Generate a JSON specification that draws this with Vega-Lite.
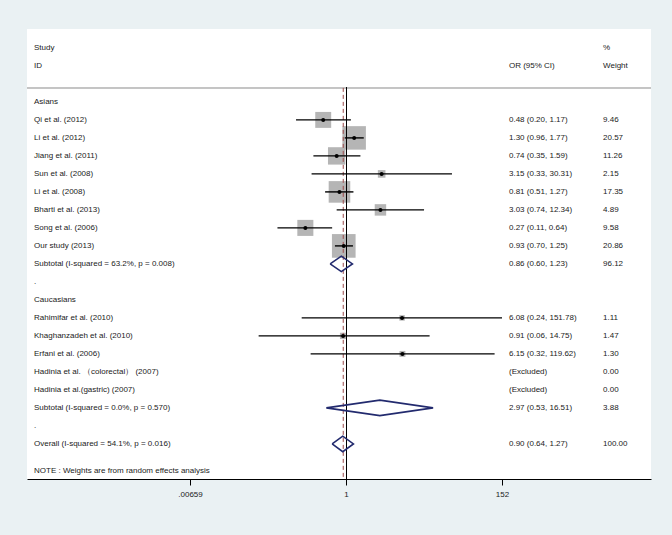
{
  "$schema": "https://vega.github.io/schema/vega-lite/v6.json",
  "width": 624,
  "height": 450,
  "autosize": {"type": "none"},
  "padding": {"left": 27, "top": 29, "right": 21, "bottom": 56},
  "background": "#eaf1f3",
  "config": {
    "view": {"fill": "white", "stroke": null},
    "font": "Liberation Sans",
    "text": {"font": "Liberation Sans", "fontSize": 8, "color": "#1a1a1a"},
    "axisX": {"grid": false, "domainColor": "black", "domainWidth": 1, "tickColor": "black", "tickSize": 6, "tickWidth": 1, "labelFont": "Liberation Sans", "labelFontSize": 8, "labelColor": "#1a1a1a", "labelPadding": 5, "title": null}
  },
  "datasets": {
    "rows": [
      {"row": -3, "label": "Study", "ci": "", "wt": "%", "kind": "header"},
      {"row": -2, "label": "ID", "ci": "OR (95% CI)", "wt": "Weight", "kind": "header"},
      {"row": 0, "label": "Asians", "kind": "group"},
      {"row": 1, "label": "Qi et al. (2012)", "est": 0.48, "lo": 0.20, "hi": 1.17, "w": 9.46, "ci": "0.48 (0.20, 1.17)", "wt": "9.46", "kind": "study"},
      {"row": 2, "label": "Li et al. (2012)", "est": 1.30, "lo": 0.96, "hi": 1.77, "w": 20.57, "ci": "1.30 (0.96, 1.77)", "wt": "20.57", "kind": "study"},
      {"row": 3, "label": "Jiang et al. (2011)", "est": 0.74, "lo": 0.35, "hi": 1.59, "w": 11.26, "ci": "0.74 (0.35, 1.59)", "wt": "11.26", "kind": "study"},
      {"row": 4, "label": "Sun et al. (2008)", "est": 3.15, "lo": 0.33, "hi": 30.31, "w": 2.15, "ci": "3.15 (0.33, 30.31)", "wt": "2.15", "kind": "study"},
      {"row": 5, "label": "Li et al. (2008)", "est": 0.81, "lo": 0.51, "hi": 1.27, "w": 17.35, "ci": "0.81 (0.51, 1.27)", "wt": "17.35", "kind": "study"},
      {"row": 6, "label": "Bharti et al. (2013)", "est": 3.03, "lo": 0.74, "hi": 12.34, "w": 4.89, "ci": "3.03 (0.74, 12.34)", "wt": "4.89", "kind": "study"},
      {"row": 7, "label": "Song et al. (2006)", "est": 0.27, "lo": 0.11, "hi": 0.64, "w": 9.58, "ci": "0.27 (0.11, 0.64)", "wt": "9.58", "kind": "study"},
      {"row": 8, "label": "Our study (2013)", "est": 0.93, "lo": 0.70, "hi": 1.25, "w": 20.86, "ci": "0.93 (0.70, 1.25)", "wt": "20.86", "kind": "study"},
      {"row": 9, "label": "Subtotal  (I-squared = 63.2%, p = 0.008)", "est": 0.86, "lo": 0.60, "hi": 1.23, "ci": "0.86 (0.60, 1.23)", "wt": "96.12", "kind": "pooled"},
      {"row": 10, "label": ".", "kind": "blank"},
      {"row": 11, "label": "Caucasians", "kind": "group"},
      {"row": 12, "label": "Rahimifar et al. (2010)", "est": 6.08, "lo": 0.24, "hi": 151.78, "w": 1.11, "ci": "6.08 (0.24, 151.78)", "wt": "1.11", "kind": "study"},
      {"row": 13, "label": "Khaghanzadeh et al. (2010)", "est": 0.91, "lo": 0.06, "hi": 14.75, "w": 1.47, "ci": "0.91 (0.06, 14.75)", "wt": "1.47", "kind": "study"},
      {"row": 14, "label": "Erfani et al. (2006)", "est": 6.15, "lo": 0.32, "hi": 119.62, "w": 1.30, "ci": "6.15 (0.32, 119.62)", "wt": "1.30", "kind": "study"},
      {"row": 15, "label": "Hadinia et al. （colorectal） (2007)", "ci": "(Excluded)", "wt": "0.00", "kind": "excluded"},
      {"row": 16, "label": "Hadinia et al.(gastric) (2007)", "ci": "(Excluded)", "wt": "0.00", "kind": "excluded"},
      {"row": 17, "label": "Subtotal  (I-squared = 0.0%, p = 0.570)", "est": 2.97, "lo": 0.53, "hi": 16.51, "ci": "2.97 (0.53, 16.51)", "wt": "3.88", "kind": "pooled"},
      {"row": 18, "label": ".", "kind": "blank"},
      {"row": 19, "label": "Overall  (I-squared = 54.1%, p = 0.016)", "est": 0.90, "lo": 0.64, "hi": 1.27, "ci": "0.90 (0.64, 1.27)", "wt": "100.00", "kind": "overall"},
      {"row": 20.5, "label": "NOTE : Weights are from random effects analysis", "kind": "note"}
    ]
  },
  "data": {"name": "rows"},
  "layer": [
    {
      "mark": {"type": "rule", "color": "#c4c4c4", "strokeWidth": 1},
      "encoding": {
        "y": {"datum": -0.78, "scale": {"domain": [-4.05, 20.95], "nice": false, "zero": false, "reverse": true}, "axis": null}
      }
    },
    {
      "transform": [{"filter": "datum.kind == 'study'"}],
      "mark": {"type": "point", "shape": "square", "filled": true, "color": "#b5b5b5", "opacity": 1},
      "encoding": {
        "x": {"field": "est", "type": "quantitative", "scale": {"type": "log", "domain": [3.46e-5, 18400], "nice": false}, "axis": {"values": [0.00659, 1, 152], "labelExpr": "datum.value < 0.01 ? '.00659' : (datum.value == 1 ? '1' : '152')", "title": null}},
        "y": {"field": "row", "type": "quantitative", "axis": null},
        "size": {"field": "w", "type": "quantitative", "scale": {"type": "linear", "domain": [0, 20.86], "range": [0, 560], "zero": true}, "legend": null}
      }
    },
    {
      "mark": {"type": "rule", "color": "black", "strokeWidth": 1, "xOffset": 0.5},
      "encoding": {
        "x": {"datum": 1, "axis": {"values": [0.00659, 1, 152], "labelExpr": "datum.value < 0.01 ? '.00659' : (datum.value == 1 ? '1' : '152')", "title": null}},
        "y": {"datum": -0.78, "axis": null},
        "y2": {"datum": 20.95}
      }
    },
    {
      "transform": [{"filter": "datum.kind == 'overall'"}],
      "mark": {"type": "rule", "color": "#9b4a4a", "strokeWidth": 1, "strokeDash": [4, 3], "xOffset": 0.5},
      "encoding": {
        "x": {"field": "est", "type": "quantitative", "axis": {"values": [0.00659, 1, 152], "labelExpr": "datum.value < 0.01 ? '.00659' : (datum.value == 1 ? '1' : '152')", "title": null}},
        "y": {"datum": -0.78, "axis": null},
        "y2": {"datum": 20.95}
      }
    },
    {
      "transform": [{"filter": "datum.kind == 'study'"}],
      "mark": {"type": "rule", "color": "black", "strokeWidth": 1.4},
      "encoding": {
        "x": {"field": "lo", "type": "quantitative", "axis": {"values": [0.00659, 1, 152], "labelExpr": "datum.value < 0.01 ? '.00659' : (datum.value == 1 ? '1' : '152')", "title": null}},
        "x2": {"field": "hi"},
        "y": {"field": "row", "type": "quantitative", "axis": null}
      }
    },
    {
      "transform": [{"filter": "datum.kind == 'study'"}],
      "mark": {"type": "point", "shape": "circle", "filled": true, "color": "black", "opacity": 1, "size": 16},
      "encoding": {
        "x": {"field": "est", "type": "quantitative", "axis": {"values": [0.00659, 1, 152], "labelExpr": "datum.value < 0.01 ? '.00659' : (datum.value == 1 ? '1' : '152')", "title": null}},
        "y": {"field": "row", "type": "quantitative", "axis": null}
      }
    },
    {
      "transform": [
        {"filter": "datum.kind == 'pooled' || datum.kind == 'overall'"},
        {"calculate": "[datum.lo, datum.est, datum.hi, datum.est, datum.lo]", "as": "vx"},
        {"calculate": "[0, -1, 0, 1, 0]", "as": "vdy"},
        {"calculate": "[0, 1, 2, 3, 4]", "as": "vi"},
        {"flatten": ["vx", "vdy", "vi"]},
        {"calculate": "datum.row + 0.43 * datum.vdy", "as": "vy"}
      ],
      "mark": {"type": "line", "color": "#222a6e", "strokeWidth": 1.6, "strokeJoin": "miter"},
      "encoding": {
        "x": {"field": "vx", "type": "quantitative", "axis": {"values": [0.00659, 1, 152], "labelExpr": "datum.value < 0.01 ? '.00659' : (datum.value == 1 ? '1' : '152')", "title": null}},
        "y": {"field": "vy", "type": "quantitative", "axis": null},
        "order": {"field": "vi", "type": "quantitative"},
        "detail": {"field": "row", "type": "nominal"}
      }
    },
    {
      "transform": [{"filter": "isValid(datum.label)"}],
      "mark": {"type": "text", "align": "left", "baseline": "middle"},
      "encoding": {
        "x": {"datum": 4.34e-5, "axis": {"values": [0.00659, 1, 152], "labelExpr": "datum.value < 0.01 ? '.00659' : (datum.value == 1 ? '1' : '152')", "title": null}},
        "y": {"field": "row", "type": "quantitative", "axis": null},
        "text": {"field": "label"}
      }
    },
    {
      "transform": [{"filter": "isValid(datum.ci) && datum.ci != ''"}],
      "mark": {"type": "text", "align": "left", "baseline": "middle"},
      "encoding": {
        "x": {"datum": 190, "axis": {"values": [0.00659, 1, 152], "labelExpr": "datum.value < 0.01 ? '.00659' : (datum.value == 1 ? '1' : '152')", "title": null}},
        "y": {"field": "row", "type": "quantitative", "axis": null},
        "text": {"field": "ci"}
      }
    },
    {
      "transform": [{"filter": "isValid(datum.wt) && datum.wt != ''"}],
      "mark": {"type": "text", "align": "left", "baseline": "middle"},
      "encoding": {
        "x": {"datum": 3926, "axis": {"values": [0.00659, 1, 152], "labelExpr": "datum.value < 0.01 ? '.00659' : (datum.value == 1 ? '1' : '152')", "title": null}},
        "y": {"field": "row", "type": "quantitative", "axis": null},
        "text": {"field": "wt"}
      }
    }
  ]
}
